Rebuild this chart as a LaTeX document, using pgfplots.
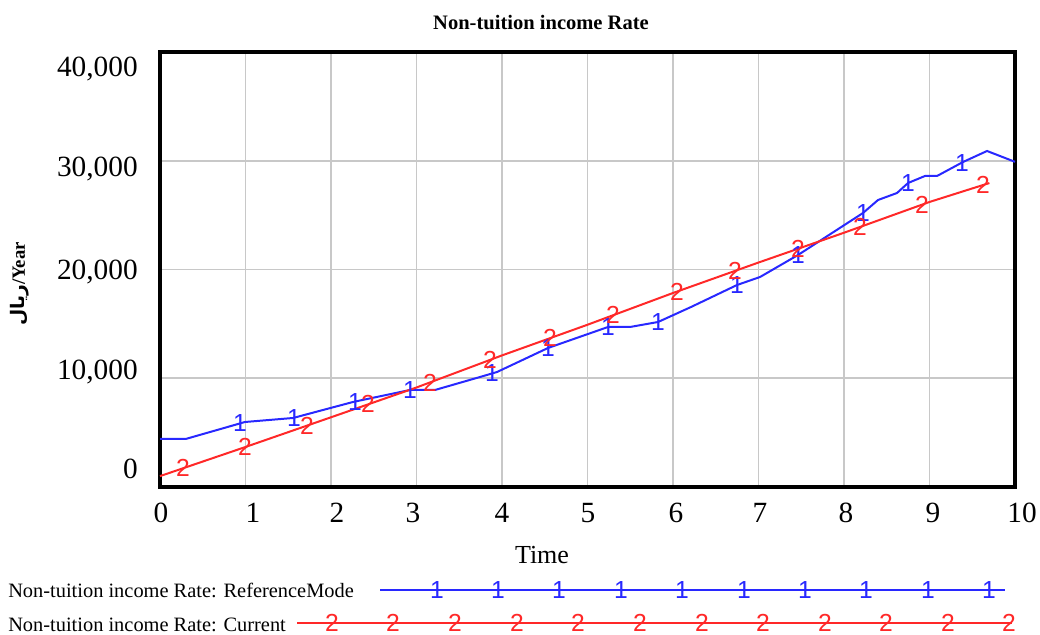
\documentclass[border=0pt]{standalone}
\usepackage{pgfplots}
\pgfplotsset{compat=1.18}
\usepackage{fontspec}
\setmainfont{Liberation Serif}
\newfontfamily\markfont{Liberation Sans}
\newfontfamily\arabicfont[Script=Arabic]{DejaVu Sans}
\TeXXeTstate=1

\definecolor{refblue}{RGB}{40,40,255}
\definecolor{curred}{RGB}{255,40,40}
\definecolor{gridgray}{RGB}{200,200,200}

% number marks laid on the lines, as Vensim does
\pgfplotsset{
  vmark/.style 2 args={only marks, mark=text,
    text mark={\markfont\fontsize{18.5}{18.5}\selectfont #1},
    text mark as node=true,
    text mark style={inner sep=0pt, text=#2}},
}

\begin{document}
\begin{tikzpicture}
% plot area
\begin{axis}[
  at={(120pt,111pt)}, anchor=south west,
  scale only axis, width=641.25pt, height=326.25pt,
  xmin=0, xmax=10, ymin=0, ymax=40000,
  xtick={1,...,9}, ytick={10000,20000,30000},
  xticklabels={}, yticklabels={},
  scaled x ticks=false, scaled y ticks=false,
  major tick length=0pt,
  xmajorgrids, ymajorgrids,
  grid style={line width=1.2pt, gridgray},
  axis line style={line width=3pt},
  clip=false,
]
% Non-tuition income Rate: ReferenceMode
\addplot[refblue, line width=1.5pt] coordinates {
  (0,4414) (0.30,4414) (0.994,5977) (1.556,6345) (2.257,7816)
  (2.924,8920) (3.216,8920) (3.743,10115) (3.942,10575) (4.538,12782)
  (5.240,14713) (5.497,14713) (5.825,15172) (6.211,16552) (6.749,18575)
  (7.018,19310) (7.462,21333) (8.222,25195) (8.398,26391) (8.620,27034)
  (8.749,27954) (8.947,28598) (9.088,28598) (9.392,29885) (9.673,30897)
  (10,29900)
};
% Non-tuition income Rate: Current
\addplot[curred, line width=1.5pt] coordinates {
  (0,1000) (1,3680) (2,6410) (3,9150) (4,12100) (5,14920) (6,17840)
  (7,20640) (8,23380) (9,26210) (9.70,27950)
};
\addplot[vmark={1}{refblue}] coordinates {
  (0.936,5846) (1.567,6370) (2.281,7856) (2.924,8920) (3.883,10439)
  (4.538,12782) (5.240,14713) (5.825,15172) (6.749,18575) (7.462,21333)
  (8.222,25195) (8.749,27954) (9.380,29834)
};
\addplot[vmark={2}{curred}] coordinates {
  (0.269,1721) (0.994,3664) (1.719,5643) (2.433,7596) (3.158,9616)
  (3.860,11687) (4.561,13682) (5.298,15790) (6.047,17972) (6.725,19870)
  (7.462,21906) (8.187,23909) (8.912,25961) (9.626,27766)
};
\end{axis}

% whole canvas in pixel units (y downwards) for texts and the legend
\begin{axis}[
  at={(0pt,0pt)}, anchor=south west,
  scale only axis, width=780pt, height=476.25pt,
  xmin=0, xmax=1040, ymin=0, ymax=635, y dir=reverse,
  hide axis, clip=false,
]
\path (axis cs:0,0) rectangle (axis cs:1040,635);

\node[anchor=base, font=\bfseries\fontsize{15.4}{15.4}\selectfont]
  at (axis cs:541,29.5) {Non-tuition income Rate};

\begin{scope}[every node/.style={anchor=base east, inner sep=0pt,
    font=\fontsize{22}{22}\selectfont}]
  \node at (axis cs:138,77)  {40,000};
  \node at (axis cs:138,176) {30,000};
  \node at (axis cs:138,279) {20,000};
  \node at (axis cs:138,379) {10,000};
  \node at (axis cs:138,478) {0};
\end{scope}

\begin{scope}[every node/.style={anchor=base, inner sep=0pt,
    font=\fontsize{22}{22}\selectfont}]
  \node at (axis cs:161,522)  {0};
  \node at (axis cs:253,522)  {1};
  \node at (axis cs:337,522)  {2};
  \node at (axis cs:413,522)  {3};
  \node at (axis cs:502,522)  {4};
  \node at (axis cs:588,522)  {5};
  \node at (axis cs:676,522)  {6};
  \node at (axis cs:760,522)  {7};
  \node at (axis cs:846,522)  {8};
  \node at (axis cs:933,522)  {9};
  \node at (axis cs:1022,522) {10};
\end{scope}

\node[anchor=base, inner sep=0pt, font=\fontsize{19.5}{19.5}\selectfont]
  at (axis cs:542,563) {Time};

\node[rotate=90, inner sep=0pt, font=\bfseries\fontsize{14}{14}\selectfont]
  at (axis cs:20,284) {{\arabicfont\bfseries\beginR ریال\endR}/Year};

% legend
\node[anchor=base west, inner sep=0pt, font=\fontsize{15.3}{15.3}\selectfont]
  at (axis cs:8,597) {Non-tuition income Rate: ReferenceMode};
\node[anchor=base west, inner sep=0pt, font=\fontsize{15.3}{15.3}\selectfont]
  at (axis cs:8,631) {Non-tuition income Rate: Current};

\addplot[refblue, line width=1.6pt] coordinates {(380,590) (1005,590)};
\addplot[curred, line width=1.6pt] coordinates {(297,623) (1012,623)};
\addplot[vmark={1}{refblue}] coordinates {
  (437,590) (498,590) (559,590) (621,590) (682,590)
  (744,590) (805,590) (866,590) (928,590) (989,590)
};
\addplot[vmark={2}{curred}] coordinates {
  (332,623) (393,623) (455,623) (517,623) (578,623) (640,623)
  (702,623) (763,623) (825,623) (886,623) (948,623) (1009,623)
};
\end{axis}
\end{tikzpicture}
\end{document}
